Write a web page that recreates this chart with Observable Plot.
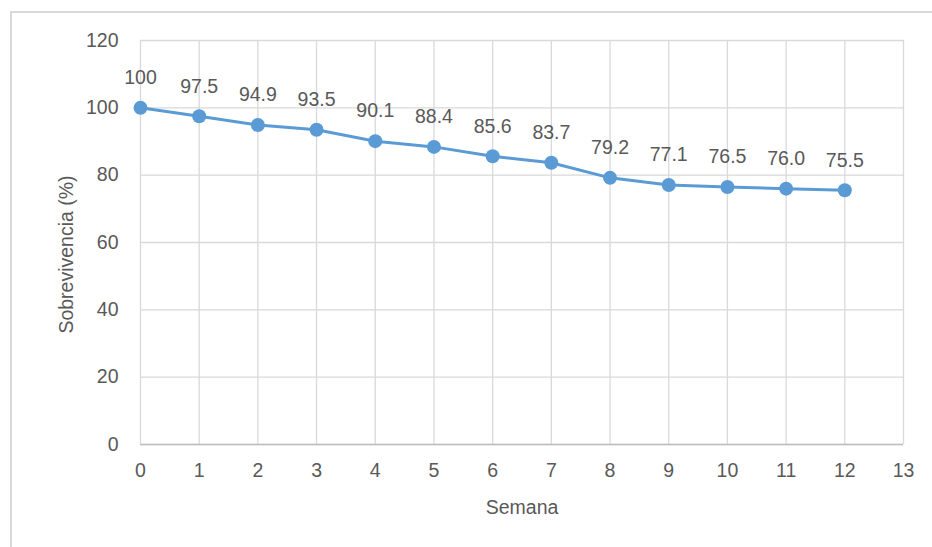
<!DOCTYPE html>
<html>
<head>
<meta charset="utf-8">
<script src="https://cdn.jsdelivr.net/npm/d3@7"></script>
<script src="https://cdn.jsdelivr.net/npm/@observablehq/plot@0.6"></script>
<style>
  html, body { margin: 0; padding: 0; background: #fff; }
  #wrap { position: relative; width: 932px; height: 547px; overflow: hidden; }
  #border { position: absolute; left: 10px; top: 11px; width: 940px; height: 560px;
            border: 2px solid #D9D9D9; box-sizing: border-box; }
  #chart { position: absolute; left: 0; top: 0; }
</style>
</head>
<body>
<div id="wrap"><div id="border"></div><div id="chart"></div></div>
<script>
// Weekly survival (%)
const semanas = [0, 1, 2, 3, 4, 5, 6, 7, 8, 9, 10, 11, 12];
const sobrevivencia = [100, 97.5, 94.9, 93.5, 90.1, 88.4, 85.6, 83.7, 79.2, 77.1, 76.5, 76.0, 75.5];
const xTicks = [0, 1, 2, 3, 4, 5, 6, 7, 8, 9, 10, 11, 12, 13];
const yTicks = [0, 20, 40, 60, 80, 100, 120];

const data = semanas.map((s, i) => ({semana: s, valor: sobrevivencia[i]}));
const fmt = v => (Number.isInteger(v) && v >= 100) ? String(v) : v.toFixed(1);

const textColor = "#595959";
const gridColor = "#D9D9D9";
const lineColor = "#5B9BD5";
const font = "'Liberation Sans', Arial, sans-serif";
const fs = 19.5;

const chart = Plot.plot({
  width: 932,
  height: 547,
  marginLeft: 140,
  marginRight: 29,
  marginTop: 40,
  marginBottom: 103,
  style: {fontFamily: font, fontSize: fs + "px", color: textColor, background: "transparent"},
  x: {domain: [0, 13], ticks: xTicks},
  y: {domain: [0, 120], ticks: yTicks},
  marks: [
    Plot.gridX(xTicks, {stroke: gridColor, strokeOpacity: 1, strokeWidth: 1.3}),
    Plot.gridY(yTicks, {stroke: gridColor, strokeOpacity: 1, strokeWidth: 1.3}),
    Plot.ruleY([0], {stroke: "#BFBFBF", strokeWidth: 1.3}),
    Plot.axisX(xTicks, {tickSize: 0, tickPadding: 19, label: null, fill: textColor, fontSize: fs}),
    Plot.axisY(yTicks, {tickSize: 0, tickPadding: 22, label: null, fill: textColor, fontSize: fs}),
    Plot.line(data, {x: "semana", y: "valor", stroke: lineColor, strokeWidth: 3}),
    Plot.dot(data, {x: "semana", y: "valor", r: 7, fill: lineColor, stroke: "none"}),
    Plot.text(data, {x: "semana", y: "valor", text: d => fmt(d.valor), dy: -30,
                     fill: textColor, fontSize: fs}),
    Plot.text(["Semana"], {frameAnchor: "bottom", textAnchor: "middle", dy: 69,
                           fill: textColor, fontSize: fs}),
    Plot.text(["Sobrevivencia (%)"], {frameAnchor: "left", textAnchor: "middle", rotate: -90,
                                      dx: -74, dy: 12, fill: textColor, fontSize: fs})
  ]
});

document.getElementById("chart").appendChild(chart);
</script>
</body>
</html>
